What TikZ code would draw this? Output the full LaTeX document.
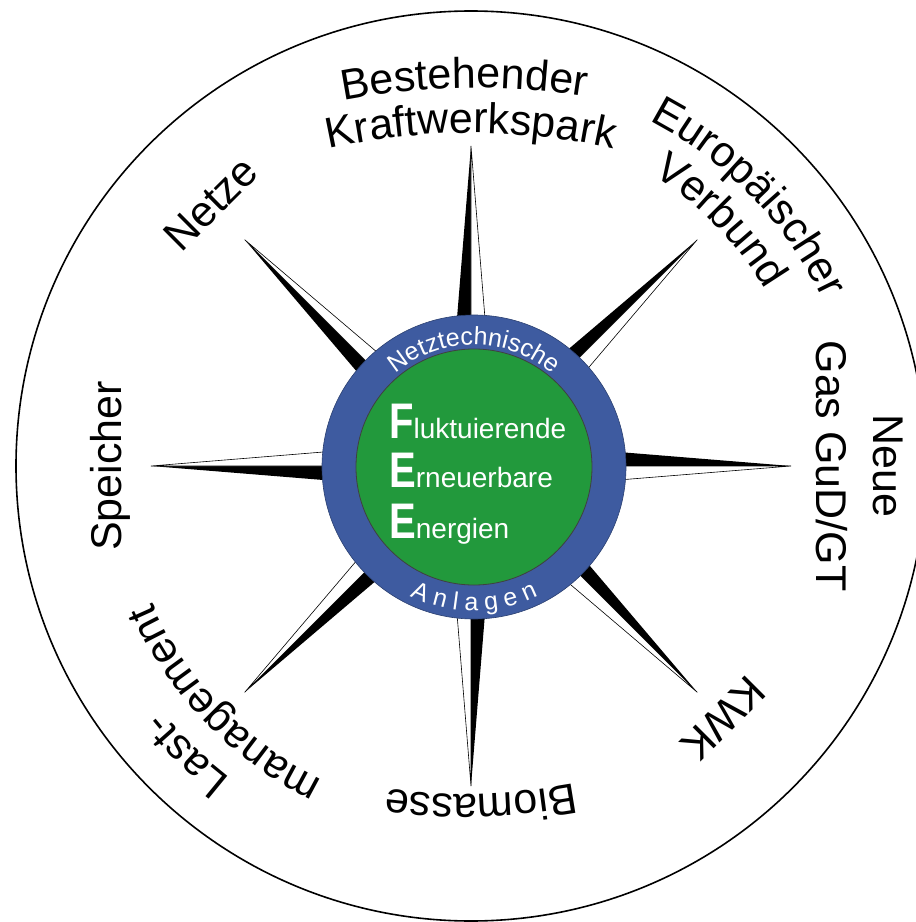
\documentclass[tikz,border=0pt]{standalone}
\usepackage{fontspec}
\setmainfont{Liberation Sans}
\usepackage{graphicx}
\usetikzlibrary{calc,decorations.text}

\definecolor{ringblue}{RGB}{62,91,160}
\definecolor{coregreen}{RGB}{34,153,60}

\newcommand\labelfont{\fontsize{43}{50}\selectfont}
\newcommand\ringfont{\fontsize{25}{28}\selectfont}
\newcommand\feesmall{\fontsize{28}{30}\selectfont}
\newcommand\feebig[1]{{\fontsize{50}{50}\selectfont\bfseries\scalebox{0.8}[1]{#1}}}

\tikzset{
  ringlabel/.style={anchor=base, inner sep=0pt, font=\labelfont},
  arclabel/.style={decorate, decoration={text along path, text align=center, text={|\labelfont|#1}}},
  hubtext/.style={decorate, decoration={text along path, text align=center, text color=white, text={|\ringfont|#1}}},
  feeline/.style={anchor=base west, inner sep=0pt, text=white, font=\feesmall},
}

\begin{document}
\begin{tikzpicture}[x=1pt, y=1pt]
\useasboundingbox (-471,-456) rectangle (445,466);
\clip (-471,-456) rectangle (445,466);
\coordinate (hub) at (3,-1);
% outer rim
\draw[line width=1.6pt] (0,0) circle (455);
% compass points, black on the counterclockwise side
\foreach \a in {0,45,...,315} {
  \fill[black] (0,0) -- (\a+90:26) -- (\a:320) -- cycle;
  \filldraw[fill=white, draw=black, line width=0.6pt] (0,0) -- (\a-90:26) -- (\a:320) -- cycle;
}
% hub discs
\node (ring) [circle, fill=ringblue, draw=ringblue!70!black, line width=0.6pt, minimum size=304, inner sep=0pt] at (hub) {};
\node (core) [circle, fill=coregreen, draw=black!75, line width=0.8pt, minimum size=236, inner sep=0pt] at (hub) {};
\path[hubtext={Netztechnische}] ($(hub)+(140:122)$) arc[start angle=140, end angle=40, radius=122];
\path[hubtext={A n l a g e n}] ($(hub)+(-145:144)$) arc[start angle=-145, end angle=-35, radius=144];
\node (fee1) [feeline] at ($(hub)+(-85,29)$) {\feebig{F}luktuierende};
\node (fee2) [feeline] at ($(hub)+(-85,-20)$) {\feebig{E}rneuerbare};
\node (fee3) [feeline] at ($(hub)+(-85,-71)$) {\feebig{E}nergien};
% labels round the rim
\path[arclabel={Bestehender}] ($(271:322)+(105:700)$) arc[start angle=105, end angle=77, radius=700];
\path[arclabel={Kraftwerkspark}] ($(270:317)+(107:650)$) arc[start angle=107, end angle=73, radius=650];
\path[arclabel={Europäischer}] (69:389) arc[start angle=69, end angle=19, radius=389];
\path[arclabel={Verbund}] (64.5:343) arc[start angle=64.5, end angle=24.5, radius=343];
\node (neue) [ringlabel, rotate=-90] at (0:402) {Neue};
\node (gas) [ringlabel, rotate=-90] at (0:345) {Gas GuD/GT};
\node (kwk) [ringlabel, rotate=-135] at (-45:342) {KWK};
\path[arclabel={Biomasse}] ($(91.7:272)+(-75.3:600)$) arc[start angle=-75.3, end angle=-101.3, radius=600];
\path[arclabel={management}] (-109:347) arc[start angle=-109, end angle=-163, radius=347];
\path[arclabel={Last-}] (-122.5:394) arc[start angle=-122.5, end angle=-146.5, radius=394];
\node (speicher) [ringlabel, rotate=90] at (180:349) {Speicher};
\node (netze) [ringlabel, rotate=44.8] at (134.8:355) {Netze};
\end{tikzpicture}
\end{document}
